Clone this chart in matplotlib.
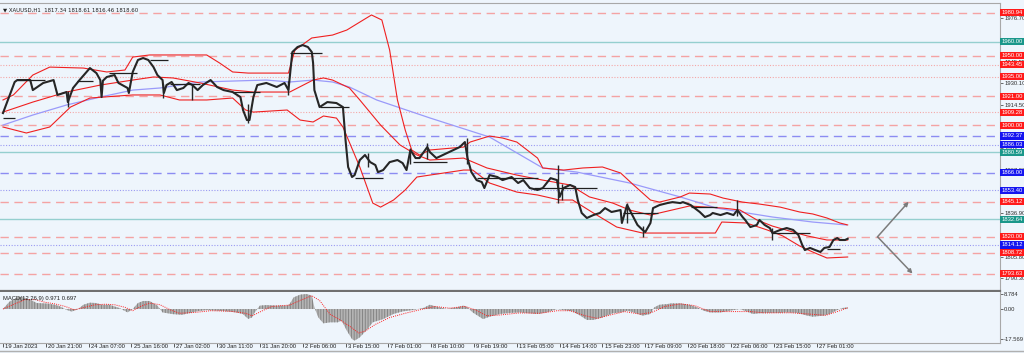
import matplotlib
matplotlib.use('Agg')
import matplotlib.pyplot as plt
from matplotlib.transforms import blended_transform_factory as btf
from matplotlib.lines import Line2D

plt.rcParams['font.family'] = ['Liberation Sans', 'DejaVu Sans']
plt.rcParams['hatch.linewidth'] = 0.6

BG = '#EEF5FC'

# ---------------- data ----------------
title = '\u25BC XAUUSD,H1  1817.34 1818.61 1816.46 1818.60'

close_bar = [0, 9, 11, 21, 23, 31, 39, 42, 49, 50,
             54, 59, 67, 72, 75, 76, 77, 80, 86, 89,
             96, 97, 100, 104, 108, 112, 116, 119, 123, 124,
             126, 130, 134, 139, 143, 146, 150, 154, 160, 165,
             170, 177, 183, 185, 188, 190, 193, 196, 203, 211,
             217, 220, 223, 227, 231, 235, 238, 239, 240, 243,
             244, 250, 257, 262, 264, 266, 269, 271, 275, 279,
             283, 287, 289, 293, 298, 304, 308, 311, 314, 318,
             321, 327, 329, 334, 339, 347, 352, 356, 358, 361,
             365, 369, 371, 375, 381, 385, 392, 397, 401, 406,
             412, 416, 422, 427, 429, 432, 437, 441, 443, 446,
             450, 455, 460, 464, 469, 476, 477, 481, 485, 489,
             493, 495, 499, 501, 506, 512, 516, 522, 524, 530,
             537, 541, 545, 547, 553, 558, 563, 566, 570, 572,
             576, 581, 583, 587, 591, 593, 599, 604, 609, 613,
             616, 618, 622, 626, 630, 633, 637, 640, 643, 645,
             649, 651]
close_price = [1908.8, 1931.1, 1932.5, 1932.5, 1925.3, 1930.4, 1932.5, 1921.8, 1923.9, 1916.7,
               1926.8, 1932.5, 1941.1, 1937.5, 1932.5, 1920.3, 1932.0, 1934.7, 1936.1, 1930.4,
               1926.8, 1923.2, 1938.3, 1946.9, 1948.3, 1946.9, 1941.8, 1936.1, 1932.5, 1923.2,
               1928.9, 1931.1, 1925.3, 1926.8, 1930.4, 1928.9, 1925.3, 1928.9, 1932.5, 1927.5,
               1925.3, 1923.9, 1920.3, 1911.0, 1903.8, 1903.8, 1920.3, 1928.9, 1930.4, 1927.5,
               1930.4, 1925.3, 1952.6, 1956.2, 1957.6, 1956.2, 1952.6, 1944.7, 1925.3, 1916.0,
               1913.1, 1916.7, 1916.0, 1913.1, 1889.5, 1870.1, 1862.9, 1864.3, 1875.1, 1878.7,
               1873.6, 1871.5, 1866.4, 1867.9, 1873.6, 1875.1, 1872.9, 1867.9, 1882.3, 1876.5,
               1876.5, 1884.4, 1880.8, 1876.5, 1878.7, 1882.3, 1884.4, 1888.0, 1876.5, 1866.4,
               1860.7, 1859.3, 1855.0, 1864.3, 1862.9, 1860.7, 1862.9, 1858.6, 1860.7, 1855.0,
               1853.6, 1855.0, 1862.1, 1860.7, 1848.6, 1855.0, 1857.2, 1855.7, 1846.4, 1837.1,
               1833.5, 1835.6, 1837.1, 1840.6, 1837.8, 1839.2, 1829.9, 1842.8, 1835.6, 1828.5,
               1824.9, 1823.4, 1829.9, 1840.6, 1842.8, 1844.2, 1844.9, 1844.2, 1844.9, 1842.8,
               1837.8, 1834.2, 1835.6, 1837.1, 1835.6, 1837.1, 1835.6, 1839.2, 1834.2, 1832.1,
               1827.0, 1828.5, 1832.1, 1828.5, 1826.3, 1822.7, 1824.9, 1826.3, 1824.9, 1821.3,
               1814.1, 1810.5, 1812.0, 1810.5, 1809.1, 1812.0, 1812.7, 1817.7, 1819.1, 1817.7,
               1817.7, 1818.6]

# high/low wicks of individual bars that stick out of the close path
wick_bar = [50, 123, 146, 189, 220, 281, 314, 327, 358, 428, 431, 481, 493, 566, 593]
wick_low = [1913.1, 1919.6, 1918.2, 1901.7, 1921.8, 1870.0, 1872.0, 1876.0, 1872.0,
            1844.2, 1846.4, 1830.0, 1820.0, 1835.0, 1817.7]
wick_high = [1925.0, 1930.0, 1929.0, 1915.0, 1932.0, 1880.1, 1883.7, 1887.3, 1890.9,
             1871.5, 1858.0, 1844.2, 1828.0, 1846.4, 1826.0]

ub_bar = [0, 8, 23, 36, 62, 80, 94, 100, 113, 157, 167, 177, 189, 220, 225, 238, 254, 265,
          275, 284, 292, 298, 304, 310, 315, 321, 329, 355, 360, 375, 385, 396, 412, 416, 432,
          447, 462, 476, 486, 499, 506, 522, 529, 545, 555, 570, 583, 599, 614, 624, 635, 645, 651]
ub_price = [1918.2, 1921.8, 1936.1, 1941.8, 1941.1, 1938.3, 1939.7, 1949.0, 1950.5, 1950.5,
            1944.7, 1938.3, 1937.5, 1937.5, 1954.0, 1962.7, 1964.8, 1968.4, 1974.1, 1979.2,
            1975.6, 1954.0, 1918.2, 1896.6, 1882.3, 1878.7, 1882.3, 1884.4, 1888.0, 1892.3,
            1890.9, 1888.0, 1876.5, 1869.4, 1867.9, 1869.4, 1870.1, 1865.8, 1857.2, 1846.4,
            1844.9, 1848.6, 1851.4, 1850.7, 1847.8, 1844.9, 1843.5, 1841.3, 1837.8, 1836.4,
            1833.5, 1829.9, 1828.5]

mb_bar = [0, 23, 49, 75, 100, 116, 131, 152, 177, 193, 221, 239, 247, 254, 267, 275, 291,
          306, 319, 329, 355, 373, 396, 416, 437, 452, 470, 483, 499, 529, 555, 568, 581,
          593, 609, 620, 635, 651]
mb_price = [1909.5, 1916.7, 1923.9, 1928.9, 1932.5, 1934.7, 1934.0, 1930.4, 1925.3, 1923.9,
            1923.9, 1932.5, 1934.0, 1932.5, 1926.8, 1918.2, 1900.2, 1885.9, 1878.7, 1875.1,
            1876.5, 1869.4, 1864.3, 1860.7, 1857.2, 1848.6, 1844.2, 1839.2, 1835.6, 1842.1,
            1840.6, 1839.2, 1832.1, 1827.7, 1823.4, 1820.6, 1817.7, 1817.7]

lb_bar = [0, 18, 36, 52, 67, 100, 121, 136, 157, 177, 187, 193, 219, 229, 239, 247, 257,
          262, 275, 285, 291, 301, 310, 319, 329, 355, 362, 375, 396, 412, 429, 439, 455,
          473, 493, 522, 549, 554, 573, 589, 601, 614, 624, 635, 651]
lb_price = [1898.8, 1894.5, 1898.8, 1913.1, 1919.6, 1921.8, 1921.8, 1918.2, 1918.2, 1919.6,
            1911.0, 1909.5, 1911.0, 1903.8, 1902.4, 1906.7, 1905.2, 1898.8, 1870.1, 1844.2,
            1841.3, 1846.4, 1853.6, 1862.9, 1864.3, 1867.9, 1867.9, 1858.6, 1852.1, 1850.0,
            1846.4, 1846.4, 1837.1, 1827.0, 1822.7, 1822.7, 1822.7, 1830.6, 1829.9, 1824.9,
            1820.6, 1813.4, 1809.1, 1804.8, 1805.5]

ma_bar = [0, 23, 49, 75, 100, 121, 152, 203, 221, 239, 254, 267, 288, 329, 375, 416, 442,
          483, 522, 550, 593, 624, 650]
ma_price = [1900.2, 1907.4, 1914.6, 1920.3, 1925.3, 1926.8, 1931.1, 1932.5, 1931.1, 1932.5,
            1931.1, 1927.5, 1918.2, 1905.3, 1891.6, 1869.4, 1866.5, 1858.6, 1848.6, 1840.6,
            1834.2, 1830.6, 1828.5]

seg_start = [0, 11, 57, 82, 113, 129, 177, 221, 244, 271, 316, 365, 409, 478, 530, 593, 635]
seg_end = [9, 32, 69, 103, 127, 152, 198, 246, 267, 293, 342, 412, 458, 505, 550, 622, 645]
seg_price = [1905.2, 1932.5, 1931.8, 1937.5, 1946.9, 1929.6, 1923.9, 1951.9, 1913.1, 1862.1,
             1873.6, 1862.1, 1855.0, 1837.1, 1841.3, 1822.7, 1811.3]

level_price = [1980.94, 1960.00, 1950.00, 1943.45, 1935.00, 1921.00, 1909.28, 1900.00,
               1892.37, 1886.03, 1880.59, 1866.00, 1853.40, 1845.12, 1832.64, 1820.00,
               1814.12, 1808.72, 1793.63]
level_kind = ['rdash', 'teal', 'rdash', 'rdot', 'rdot', 'rdash', 'rdot', 'rdash',
              'bdash', 'bdot', 'teal', 'bdash', 'bdot', 'rdash', 'teal', 'rdash',
              'bdot', 'rdash', 'rdash']

grid_vals = [1976.70, 1961.10, 1945.55, 1930.10, 1914.50, 1899.00, 1883.55, 1867.90,
             1852.40, 1836.90, 1821.30, 1805.80, 1790.30]

arrow_start = (674, 1820.00)
arrow_up = (698, 1845.12)
arrow_down = (701, 1793.63)

macd_bar = [0, 5, 12, 15, 21, 26, 34, 40, 44, 49,
            53, 58, 62, 67, 72, 76, 82, 90, 96, 100,
            104, 108, 113, 119, 123, 131, 138, 143, 150, 157,
            165, 173, 180, 185, 189, 192, 194, 198, 203, 211,
            219, 221, 224, 229, 234, 238, 240, 243, 247, 252,
            258, 261, 265, 269, 271, 275, 281, 285, 293, 301,
            308, 316, 324, 329, 334, 342, 350, 355, 358, 362,
            370, 375, 383, 391, 398, 406, 412, 419, 427, 432,
            439, 445, 450, 455, 462, 470, 476, 481, 486, 493,
            499, 502, 506, 512, 515, 522, 529, 535, 540, 545,
            553, 560, 568, 573, 578, 583, 591, 599, 604, 612,
            620, 624, 632, 637, 643, 647, 651]
macd_val = [0, 4.3, 7.2, 7.0, 5.5, 3.5, 3.2, 2.5, 1.5, -0.5,
            -1.5, 0, 2.5, 3.7, 3.5, 2.5, 2.5, 0.5, -2, 0,
            3.5, 4.7, 4.7, 2, -2, -3, -3.4, -2.5, -1.3, -0.6,
            -1, -1.4, -2, -3, -5.8, -4.9, -2, 2, 2.3, 2,
            2, 3, 6.8, 8.4, 8.8, 7.8, 1, -4.9, -8.4, -7.8,
            -7.8, -6.8, -12.7, -17.6, -18.5, -16.6, -11.7, -7.8, -5.9, -2.9,
            -1.4, -0.6, 0.6, 2.5, 1.4, 0, 1, 2, 1, -2,
            -5.9, -4.5, -2.9, -2.3, -2, -2.5, -2.9, -2, 0, -0.6,
            -1.4, -3.9, -6.4, -6.4, -4.9, -2.5, -2, -1, -2, -3.9,
            -2.9, 1, 2.5, 2.9, 3.3, 3.3, 2.5, 1, -1, -2,
            -2, -1, 0, -1.4, -2.9, -2.5, -2.3, -2.3, -2, -2.3,
            -3.9, -4.5, -3.9, -2.9, -0.6, 0.6, 1.0]

sig_bar = [0, 9, 17, 25, 32, 40, 48, 55, 63, 71,
           79, 86, 94, 100, 106, 113, 121, 129, 136, 148,
           160, 175, 187, 192, 200, 207, 221, 229, 238, 244,
           252, 260, 267, 274, 279, 287, 298, 310, 321, 333,
           344, 356, 364, 373, 383, 398, 414, 427, 437, 449,
           458, 468, 479, 491, 500, 510, 522, 533, 545, 560,
           576, 587, 607, 622, 634, 643, 651]
sig_val = [0, 3, 5.5, 5.5, 4, 3, 1.5, -0.5, 1, 2.5,
           2.8, 2.5, 1, -1, 1.5, 3.5, 2.5, -0.5, -2.5, -2,
           -1, -1.3, -2.5, -4, -1, 1.5, 2.3, 5, 7.8, 5,
           -3, -6.5, -10, -14, -13, -9, -5, -2.5, -0.5, 1.5,
           0.5, 1.5, -0.5, -4, -3.5, -2.3, -2.5, -1, -1, -4,
           -5.5, -3.5, -1.5, -3, -2, 1.5, 3, 2, -1.5, -1.5,
           -1.5, -2.3, -2.2, -3, -3.7, -1.5, 0.7]

macd_label = 'MACD(12,26,9) 0.971 0.697'
macd_ticks = [8.784, 0.00, -17.569]
macd_tick_labels = ['8.784', '0.00', '-17.569']

tick_bars = [0, 33, 66, 99, 132, 165, 198, 231, 264, 297, 330, 363, 396, 429, 462,
             495, 528, 561, 594, 627]
tick_labels = ['19 Jan 2023', '20 Jan 21:00', '24 Jan 07:00', '25 Jan 16:00', '27 Jan 02:00',
               '30 Jan 11:00', '31 Jan 20:00', '2 Feb 06:00', '3 Feb 15:00', '7 Feb 01:00',
               '8 Feb 10:00', '9 Feb 19:00', '13 Feb 05:00', '14 Feb 14:00', '15 Feb 23:00',
               '17 Feb 09:00', '20 Feb 18:00', '22 Feb 06:00', '23 Feb 15:00', '27 Feb 01:00']

# ---------------- styles ----------------
line_style = {
    'rdash': dict(color='#F4A3A3', lw=1.0, dashes=(6, 4)),
    'rdot': dict(color='#F4A8A8', lw=0.8, dashes=(1, 1.5)),
    'bdash': dict(color='#8C8CF2', lw=1.0, dashes=(6, 4)),
    'bdot': dict(color='#9A9AF2', lw=0.8, dashes=(1, 1.5)),
    'teal': dict(color='#95CFCF', lw=1.0),
}
label_col = {'rdash': '#FF1A1A', 'rdot': '#FF1A1A', 'bdash': '#1414F0',
             'bdot': '#1414F0', 'teal': '#1A978A'}

W, H = 1024, 353
fig = plt.figure(figsize=(W / 100, H / 100), dpi=100, facecolor=BG)
ax = fig.add_axes([0, 1 - 291 / H, 1000 / W, (291 - 3) / H], facecolor=BG)
ax2 = fig.add_axes([0, 1 - 343 / H, 1000 / W, (343 - 292) / H], facecolor=BG, sharex=ax)

XMIN, XMAX = -2.3, 768.4
ax.set_xlim(XMIN, XMAX)
ax.set_ylim(1781.1, 1987.8)
ax2.set_ylim(-19.9, 9.96)

# horizontal levels
for p, k in zip(level_price, level_kind):
    ax.axhline(p, zorder=1, **line_style[k])

# bands & MA
ax.plot(ma_bar, ma_price, color='#9A9AFA', lw=0.9, zorder=2)
for xb, yb in ((ub_bar, ub_price), (mb_bar, mb_price), (lb_bar, lb_price)):
    ax.plot(xb, yb, color='#F02020', lw=0.8, zorder=3)

# price
ax.plot(close_bar, close_price, color='#262626', lw=1.5, zorder=4)
ax.vlines(wick_bar, wick_low, wick_high, colors='#262626', lw=1.0, zorder=4)

# black horizontal segments
ax.hlines(seg_price, seg_start, seg_end, colors='#202020', lw=0.9, zorder=4)

# arrows
for tip in (arrow_up, arrow_down):
    ax.annotate('', xy=tip, xytext=arrow_start,
                arrowprops=dict(arrowstyle='-|>', color='#7C7C7C', lw=1.1,
                                mutation_scale=6, shrinkA=0, shrinkB=0), zorder=5)

# right-axis labels (price)
ax.yaxis.tick_right()
ax.set_yticks(grid_vals)
ax.set_yticklabels([f'{v:.2f}' for v in grid_vals])
ax.tick_params(axis='y', labelsize=4.2, length=2, width=0.5, pad=1, colors='#303030')
ax.tick_params(axis='x', length=0, labelbottom=False)
tr = btf(ax.transAxes, ax.transData)
for p, k in zip(level_price, level_kind):
    ax.text(1.0015, p, f'{p:.2f}', transform=tr, ha='left', va='center', fontsize=4.2,
            color='white', clip_on=False, zorder=10,
            bbox=dict(boxstyle='square,pad=0.18', fc=label_col[k], ec='none'))

ax.text(0.003, 0.985, title, transform=ax.transAxes, ha='left', va='top', fontsize=3.9,
        color='#202020', family=['DejaVu Sans'])

# MACD
ax2.fill_between(macd_bar, macd_val, 0, facecolor='#B4B4B4', edgecolor='#7E7E7E',
                 hatch='||||||', lw=0, zorder=2)
ax2.plot(sig_bar, sig_val, color='#FF2020', lw=0.7, dashes=(1, 1.2), zorder=3)
ax2.text(0.003, 0.93, macd_label, transform=ax2.transAxes, ha='left', va='top',
         fontsize=4.2, color='#202020')
ax2.yaxis.tick_right()
ax2.set_yticks(macd_ticks)
ax2.set_yticklabels(macd_tick_labels)
ax2.tick_params(axis='y', labelsize=4.2, length=2, width=0.5, pad=1, colors='#303030')

ax2.set_xticks(tick_bars)
ax2.set_xticklabels([])
ax2.tick_params(axis='x', length=3, width=0.6, direction='out', colors='#404040')
trx = btf(ax2.transData, ax2.transAxes)
for b, lab in zip(tick_bars, tick_labels):
    ax2.text(b + 1.6, -0.02, lab, transform=trx, ha='left', va='top', fontsize=4.2,
             color='#202020', clip_on=False)

# spines
ax.spines['left'].set_visible(False)
ax2.spines['left'].set_visible(False)
ax.spines['top'].set_color('#A8A8A8')
ax.spines['right'].set_color('#A8A8A8')
ax.spines['bottom'].set_color('#707070')
ax.spines['bottom'].set_linewidth(1.6)
ax2.spines['top'].set_visible(False)
ax2.spines['right'].set_color('#A8A8A8')
ax2.spines['bottom'].set_color('#A8A8A8')

fig.add_artist(Line2D([0, 1], [1 - 351 / H] * 2, color='#B0B0B0', lw=1.0,
                      transform=fig.transFigure))

fig.savefig('out.png', dpi=100, facecolor=BG)
